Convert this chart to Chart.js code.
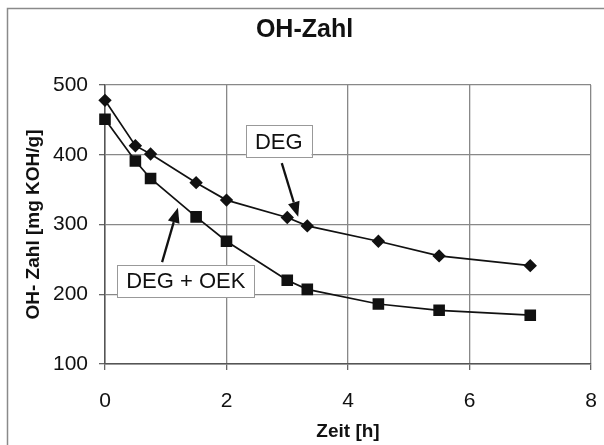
<!DOCTYPE html>
<html>
<head>
<meta charset="utf-8">
<script src="https://cdn.jsdelivr.net/npm/chart.js@4.4.1/dist/chart.umd.min.js"></script>
<style>
  html, body { margin: 0; padding: 0; background: #fff; }
  #wrap { width: 604px; height: 445px; position: relative; }
</style>
</head>
<body>
<div id="wrap"><canvas id="c"></canvas></div>
<script>
// ---- data ----
const timeH = [0, 0.5, 0.75, 1.5, 2, 3, 3.33, 4.5, 5.5, 7];
const degValues = [478, 413, 401, 360, 335, 310, 298, 276, 255, 241];
const degOekValues = [451, 391, 366, 311, 276, 220, 207, 186, 177, 170];
const seriesNames = ['DEG', 'DEG + OEK'];
const xTicks = [0, 2, 4, 6, 8];
const yTicks = [100, 200, 300, 400, 500];
// annotation labels (data coords): text, box centre, arrow tail, arrow tip
const noteTexts = ['DEG', 'DEG + OEK'];
const noteBoxX = [2.86, 1.33];
const noteBoxY = [419, 219];
const arrowFromX = [2.91, 0.94];
const arrowFromY = [388, 246];
const arrowToX = [3.18, 1.2];
const arrowToY = [311, 324];

const FONT = "'Liberation Sans', Arial, sans-serif";

const framePlugin = {
  id: 'frame',
  beforeDraw(chart) {
    const ctx = chart.ctx;
    ctx.save();
    ctx.fillStyle = '#fff';
    ctx.fillRect(0, 0, chart.width, chart.height);
    ctx.strokeStyle = '#8a8a8a';
    ctx.lineWidth = 1.5;
    ctx.strokeRect(7.5, 8.5, chart.width + 20, chart.height + 20);
    ctx.restore();
  }
};

const notesPlugin = {
  id: 'notes',
  afterDatasetsDraw(chart) {
    const ctx = chart.ctx;
    const xs = chart.scales.x, ys = chart.scales.y;
    ctx.save();
    ctx.font = '22px ' + FONT;
    for (let i = 0; i < noteTexts.length; i++) {
      // arrow
      const x1 = xs.getPixelForValue(arrowFromX[i]), y1 = ys.getPixelForValue(arrowFromY[i]);
      const x2 = xs.getPixelForValue(arrowToX[i]), y2 = ys.getPixelForValue(arrowToY[i]);
      const ang = Math.atan2(y2 - y1, x2 - x1);
      const hl = 15, hw = 6;
      const bx = x2 - hl * Math.cos(ang), by = y2 - hl * Math.sin(ang);
      ctx.strokeStyle = '#111';
      ctx.fillStyle = '#111';
      ctx.lineWidth = 2.3;
      ctx.beginPath();
      ctx.moveTo(x1, y1);
      ctx.lineTo(bx, by);
      ctx.stroke();
      ctx.beginPath();
      ctx.moveTo(x2, y2);
      ctx.lineTo(bx + hw * Math.sin(ang), by - hw * Math.cos(ang));
      ctx.lineTo(bx - hw * Math.sin(ang), by + hw * Math.cos(ang));
      ctx.closePath();
      ctx.fill();
      // box
      const cx = xs.getPixelForValue(noteBoxX[i]), cy = ys.getPixelForValue(noteBoxY[i]);
      const tw = ctx.measureText(noteTexts[i]).width;
      const w = tw + 18, h = 32;
      ctx.fillStyle = '#fff';
      ctx.fillRect(cx - w / 2, cy - h / 2, w, h);
      ctx.strokeStyle = '#999';
      ctx.lineWidth = 1;
      ctx.strokeRect(Math.round(cx - w / 2) + 0.5, Math.round(cy - h / 2) + 0.5, Math.round(w), h);
      ctx.fillStyle = '#111';
      ctx.textAlign = 'center';
      ctx.textBaseline = 'middle';
      ctx.fillText(noteTexts[i], cx, cy + 1);
    }
    ctx.restore();
  }
};

const toPts = (xs, ys) => xs.map((x, i) => ({ x: x, y: ys[i] }));

new Chart(document.getElementById('c'), {
  type: 'scatter',
  data: {
    datasets: [
      {
        label: seriesNames[0],
        data: toPts(timeH, degValues),
        showLine: true,
        clip: false,
        borderColor: '#111',
        backgroundColor: '#111',
        borderWidth: 1.7,
        pointStyle: 'rectRot',
        pointRadius: 5.5,
        pointHoverRadius: 5.5,
        tension: 0
      },
      {
        label: seriesNames[1],
        data: toPts(timeH, degOekValues),
        showLine: true,
        clip: false,
        borderColor: '#111',
        backgroundColor: '#111',
        borderWidth: 1.7,
        pointStyle: 'rect',
        pointRadius: 7,
        pointHoverRadius: 7,
        tension: 0
      }
    ]
  },
  options: {
    responsive: true,
    maintainAspectRatio: false,
    animation: false,
    devicePixelRatio: 1,
    events: [],
    layout: { padding: { left: 18, right: 13, top: 0, bottom: 0 } },
    plugins: {
      legend: { display: false },
      tooltip: { enabled: false },
      title: {
        display: true,
        text: 'OH-Zahl',
        color: '#111',
        font: { family: FONT, size: 25, weight: 'bold' },
        padding: { top: 15, bottom: 40 }
      }
    },
    scales: {
      x: {
        type: 'linear',
        min: 0, max: 8,
        afterBuildTicks: (s) => { s.ticks = xTicks.map(v => ({ value: v })); },
        afterFit: (s) => { s.height = 81; s.paddingLeft = 0; s.paddingRight = 0; },
        grid: { color: '#888', lineWidth: 1.3, tickLength: 6, tickColor: '#666', drawTicks: true },
        border: { color: '#555', width: 1.5 },
        ticks: { color: '#111', font: { family: FONT, size: 21 }, padding: 19, maxRotation: 0 },
        title: {
          display: true,
          text: 'Zeit [h]',
          color: '#111',
          font: { family: FONT, size: 19, weight: 'bold' },
          padding: { top: 2, bottom: 2 }
        }
      },
      y: {
        type: 'linear',
        min: 100, max: 500,
        afterBuildTicks: (s) => { s.ticks = yTicks.map(v => ({ value: v })); },
        afterFit: (s) => { s.width = 87; },
        grid: { color: '#888', lineWidth: 1.3, tickLength: 6, tickColor: '#666', drawTicks: true },
        border: { color: '#555', width: 1.5 },
        ticks: { color: '#111', font: { family: FONT, size: 21 }, padding: 11 },
        title: {
          display: true,
          text: 'OH- Zahl [mg KOH/g]',
          color: '#111',
          font: { family: FONT, size: 19, weight: 'bold' },
          padding: { top: 4, bottom: 2 }
        }
      }
    }
  },
  plugins: [framePlugin, notesPlugin]
});
</script>
</body>
</html>
